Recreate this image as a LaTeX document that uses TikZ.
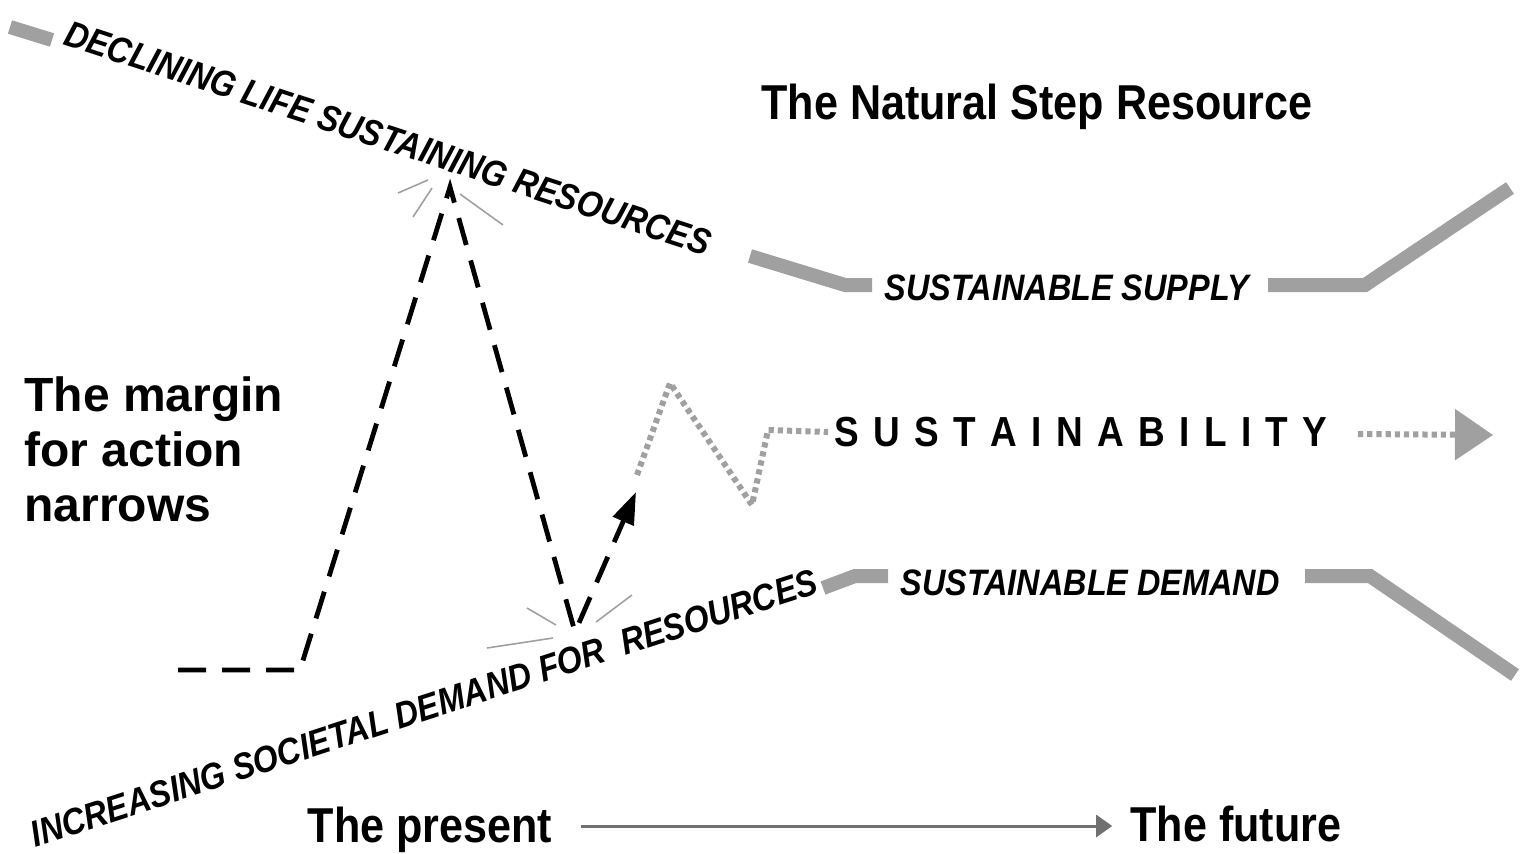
\documentclass[tikz,border=0pt]{standalone}
\usepackage{fontspec}
\setmainfont{Liberation Sans}
\newfontfamily\nar[FakeStretch=0.88]{Liberation Sans}
\usetikzlibrary{arrows.meta}
\definecolor{lg}{HTML}{A0A0A0}
\definecolor{dg}{HTML}{707070}
\begin{document}
\begin{tikzpicture}[x=0.5pt,y=-0.5pt,
 band/.style={draw=lg,line width=7pt},
 dashline/.style={draw=black,line width=2.4pt,dash pattern=on 14pt off 8pt},
 dotline/.style={draw=lg,line width=3pt,dash pattern=on 2.6pt off 2pt},
 ray/.style={draw=lg,line width=0.8pt},
 lab/.style={font=\nar\bfseries\itshape\fontsize{18.4}{20}\selectfont, inner sep=0pt},
 head/.style={font=\nar\bfseries\fontsize{24.5}{28}\selectfont, inner sep=0pt}]
\useasboundingbox (0,0) rectangle (1527,853);
% text
\node[head] (title) at (1037,107) {The Natural Step Resource};
\node[font=\bfseries\fontsize{24}{27.5}\selectfont, align=left, anchor=north west, inner sep=0pt] (margin) at (24,376) {The margin\\for action\\narrows};
\node[lab, rotate=-18.2] (decl) at (388,138) {DECLINING LIFE SUSTAINING RESOURCES};
\node[lab, rotate=18] (incr) at (424,708) {INCREASING SOCIETAL DEMAND FOR \ RESOURCES};
\node[lab] (supply) at (1067,288) {SUSTAINABLE SUPPLY};
\node[lab] (demand) at (1090,583) {SUSTAINABLE DEMAND};
\node[font=\nar\bfseries\fontsize{21}{24}\selectfont, inner sep=0pt] (sust) at (1081,432)
 {S\kern7.2pt U\kern7.2pt S\kern7.2pt T\kern7.2pt A\kern7.2pt I\kern7.2pt N\kern7.2pt A\kern7.2pt B\kern7.2pt I\kern7.2pt L\kern7.2pt I\kern7.2pt T\kern7.2pt Y};
\node[head] (present) at (430,830) {The present};
\node[head] (future) at (1236,824) {The future};
% supply / demand bands
\coordinate (u0) at (10,27);
\coordinate (u1) at (52,40);
\coordinate (s0) at (750,256);
\coordinate (s1) at (845,285);
\coordinate (s2) at (872,285);
\coordinate (s3) at (1268,285);
\coordinate (s4) at (1365,285);
\coordinate (s5) at (1510,188);
\coordinate (e0) at (823,588);
\coordinate (e1) at (855,576);
\coordinate (e2) at (888,576);
\coordinate (e3) at (1305,576);
\coordinate (e4) at (1370,576);
\coordinate (e5) at (1515,675);
\draw[band] (u0) -- (u1);
\draw[band] (s0) -- (s1) -- (s2);
\draw[band] (s3) -- (s4) -- (s5);
\draw[band] (e0) -- (e1) -- (e2);
\draw[band] (e3) -- (e4) -- (e5);
% dashed path
\coordinate (d0) at (178,670);
\coordinate (d1) at (300,670);
\coordinate (peak) at (450,187);
\coordinate (valley) at (575,632);
\coordinate (tip) at (636,492);
\draw[dashline,-{Triangle[length=16pt,width=11pt]}] (d0) -- (d1) -- (peak) -- (valley) -- (tip);
% rays
\draw[ray] (398,193) -- (428,180);
\draw[ray] (413,217) -- (432,188);
\draw[ray] (460,194) -- (503,225);
\draw[ray] (527,608) -- (556,625);
\draw[ray] (487,648) -- (553,638);
\draw[ray] (596,622) -- (632,595);
% dotted path
\coordinate (p0) at (637,475);
\coordinate (p1) at (670,383);
\coordinate (p2) at (752,505);
\coordinate (p3) at (768,430);
\coordinate (p4) at (1455,435);
\draw[dotline] (p0) -- (p1) -- (p2) -- (p3) -- ([xshift=-3pt]sust.west);
\draw[dotline,-{Triangle[length=19pt,width=25pt,fill=lg,color=lg]}] ([xshift=15pt,yshift=-1pt]sust.east) -- ([xshift=19pt]p4);
% time arrow
\draw[draw=dg,line width=1.5pt,-{Triangle[length=8pt,width=11pt]}] ([xshift=14pt,yshift=2pt]present.east) -- ([xshift=-9pt,yshift=2pt]present.east -| future.west);
\end{tikzpicture}
\end{document}
